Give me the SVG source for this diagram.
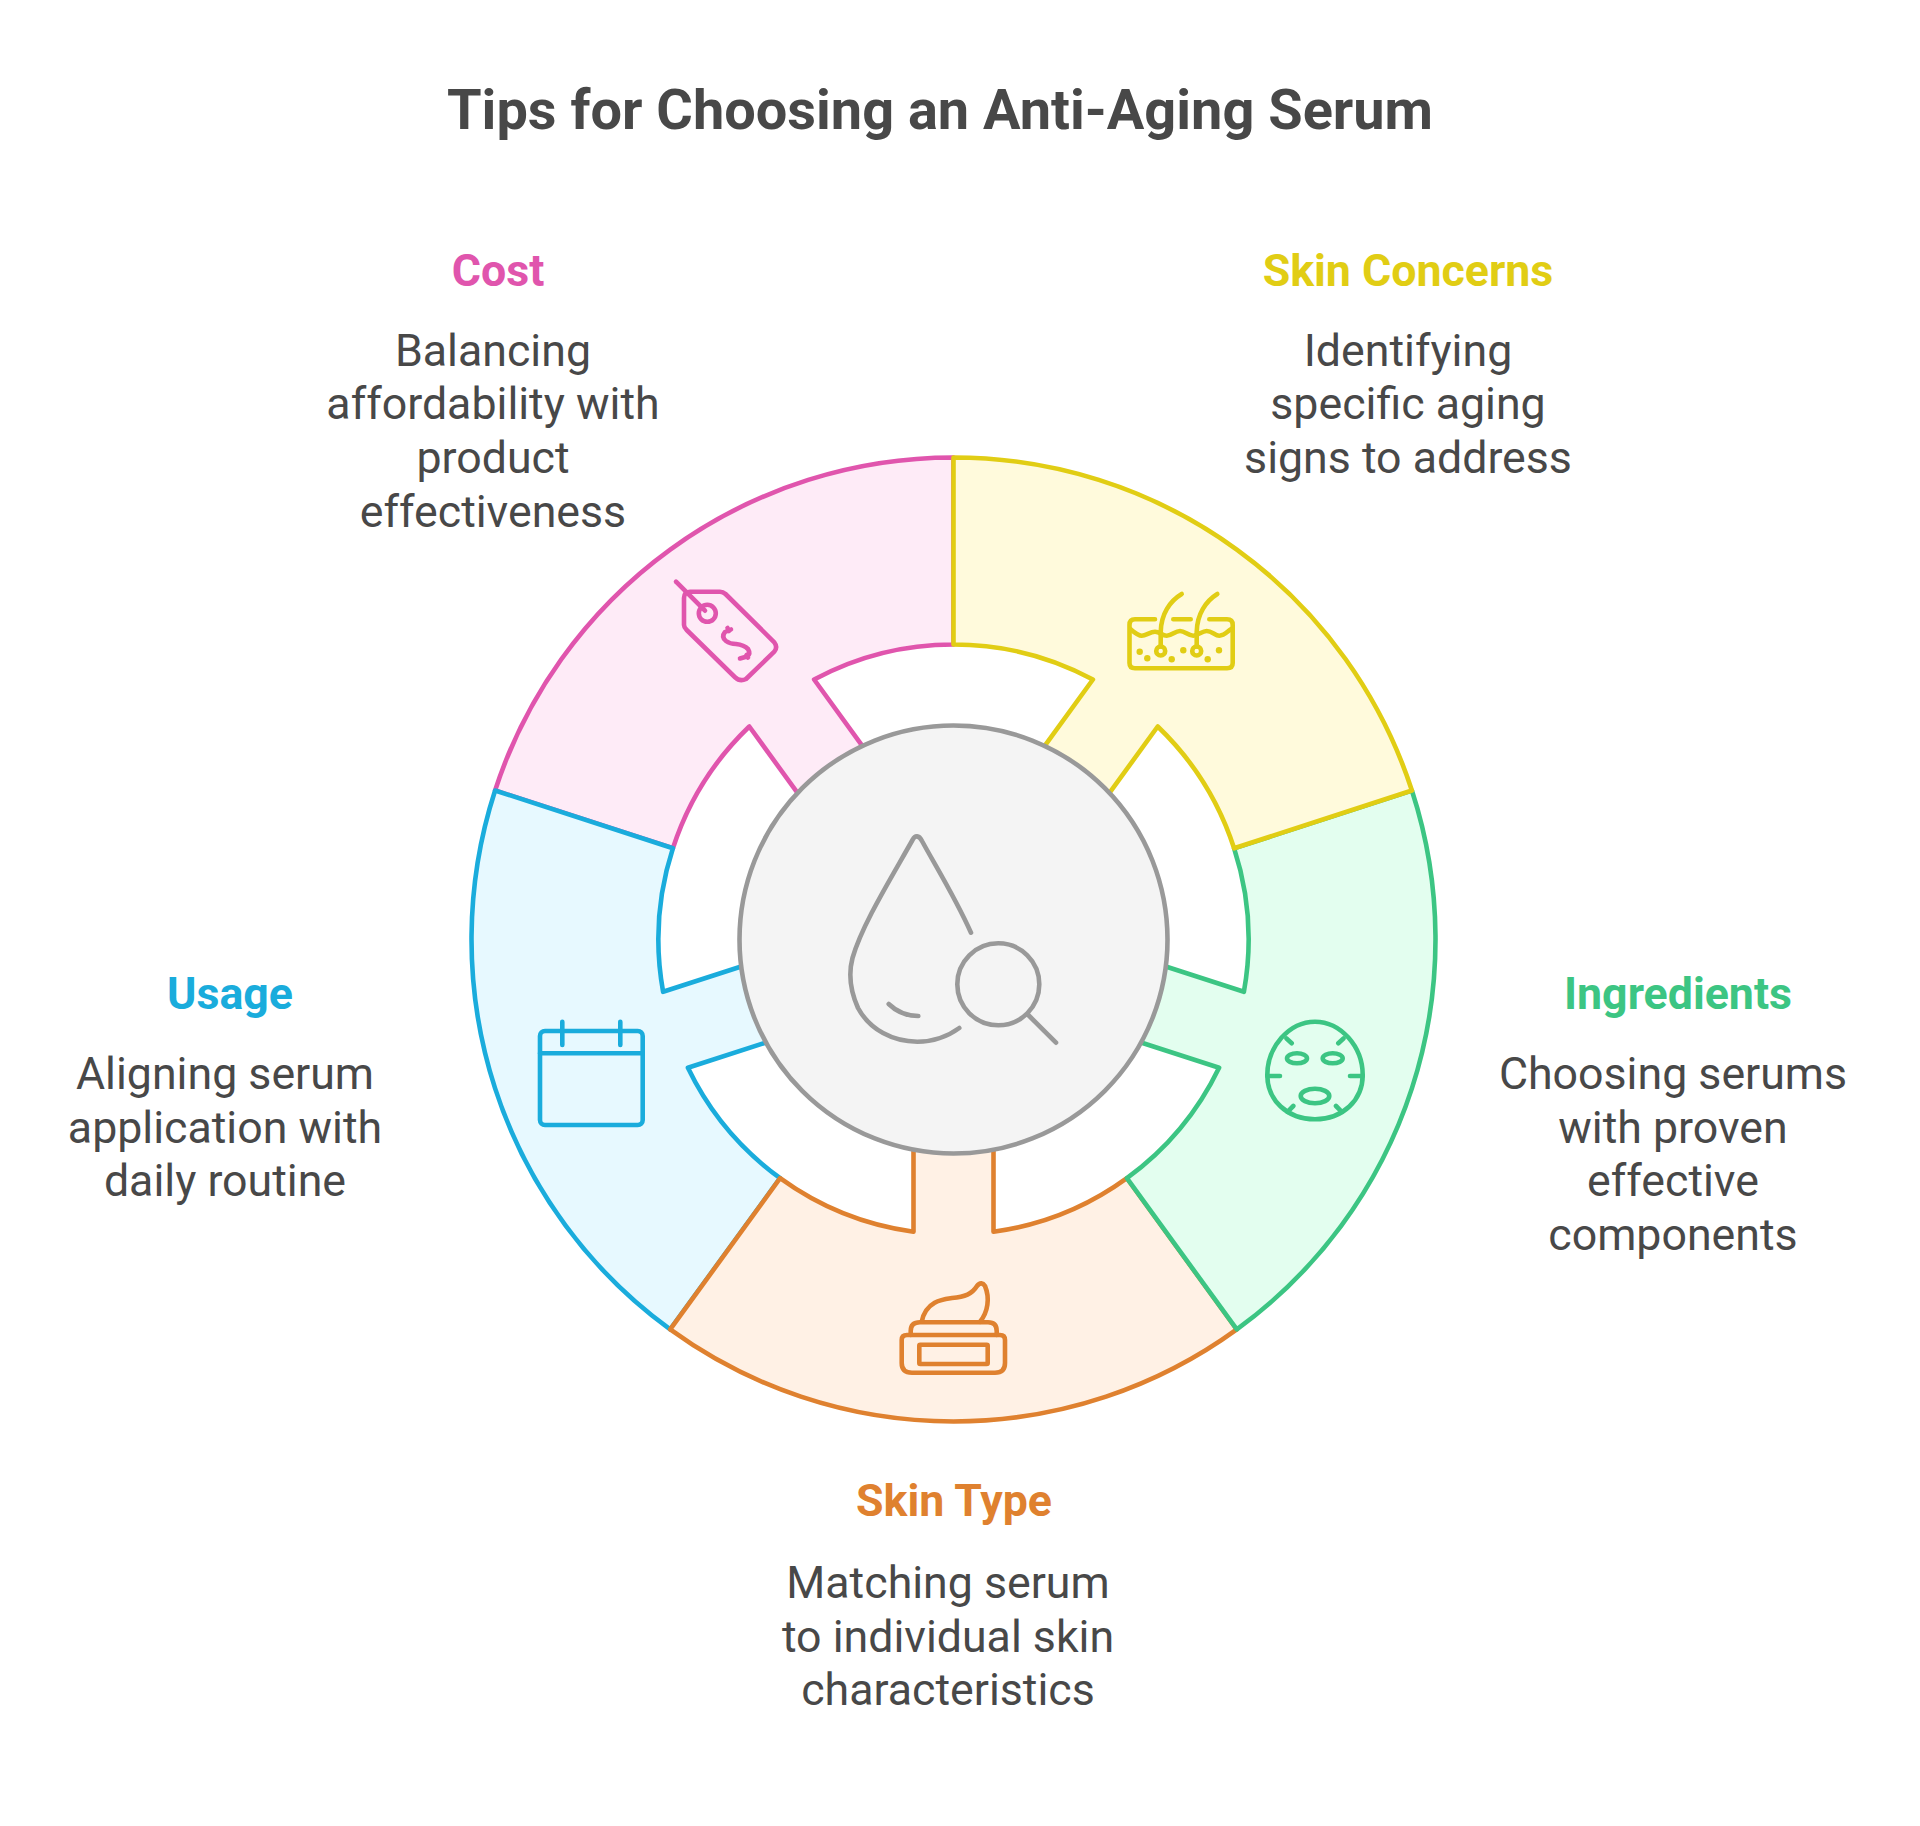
<svg xmlns="http://www.w3.org/2000/svg" width="1920" height="1826" viewBox="0 0 1920 1826">
<style>
text{font-family:Roboto,"Liberation Sans",sans-serif;text-anchor:middle}
.title{font-size:55.9px;font-weight:700;fill:#484848}
.head{font-size:44.7px;font-weight:700}
.body{font-size:44.7px;fill:#484848}
.sec{stroke-width:4.6;stroke-linejoin:round}
.ico{fill:none;stroke-width:4.6;stroke-linecap:round;stroke-linejoin:round}
.dot{stroke:none}
</style>
<rect width="1920" height="1826" fill="#fff"/>
<text class="title" x="940" y="128.500">Tips for Choosing an Anti-Aging Serum</text>
<g id="connectors"></g>
<g id="cost">
<path class="sec" fill="#feebf7" stroke="#e055ad" d="M495.1,790.5A482,482 0 0 1 953.5,457.5L953.5,644.5A295,295 0 0 0 814.1,679.5L862.3,745.9L797.5,792.9L749.3,726.5A295,295 0 0 0 672.9,848.3Z"/>
<g class="ico" stroke="#e055ad">
<path d="M676,581.7L705,610.7"/><circle cx="707.3" cy="613.3" r="8.5"/>
<path d="M690,591.7H720Q723,591.7 725.5,594L774.3,642.3Q778,647 774.3,651.7L746,679Q740,682 735,677.3L686.7,630Q684,627.5 684,625V598Q684,592 690,591.7Z"/>
<path d="M731,629.5L725,632Q721,637 726,641Q730,644 736,644Q744,645 748,649Q751,654 747,656.5L740,658.5M727.500,628L729,631M746.500,655L748,657.500"/>
</g>
<text class="head" x="498" y="285.700" fill="#e055ad">Cost</text>
<text class="body" x="493" y="365.700">Balancing</text>
<text class="body" x="493" y="419.300">affordability with</text>
<text class="body" x="493" y="472.900">product</text>
<text class="body" x="493" y="526.500">effectiveness</text>
</g>
<g id="usage">
<path class="sec" fill="#e7f9ff" stroke="#1aacdc" d="M670.2,1329.4A482,482 0 0 1 495.1,790.5L672.9,848.3A295,295 0 0 0 663.1,991.8L741.2,966.5L766,1042.5L687.9,1067.8A295,295 0 0 0 780.1,1178.2Z"/>
<g class="ico" stroke="#1aacdc">
<rect x="540" y="1031" width="102.700" height="94" rx="5"/>
<path d="M540,1053.300H642.700M562.300,1021.700V1045M620.300,1021.700V1045"/>
</g>
<text class="head" x="230" y="1009" fill="#1aacdc">Usage</text>
<text class="body" x="225" y="1089">Aligning serum</text>
<text class="body" x="225" y="1142.600">application with</text>
<text class="body" x="225" y="1196.200">daily routine</text>
</g>
<g id="skin-type">
<path class="sec" fill="#fff1e5" stroke="#df812f" d="M1236.8,1329.4A482,482 0 0 1 670.2,1329.4L780.1,1178.2A295,295 0 0 0 913.5,1231.8L913.5,1149.7L993.500,1149.7L993.500,1231.8A295,295 0 0 0 1126.9,1178.2Z"/>
<g class="ico" stroke="#df812f">
<path d="M907,1335H1000Q1005,1335 1005,1340V1363Q1005,1372.7 995,1372.7H912Q901.700,1372.7 901.700,1363V1340Q901.700,1335 907,1335Z"/>
<rect x="919.300" y="1344.700" width="68.400" height="19.300" rx="1"/>
<path d="M910.700,1335V1331Q910.700,1322.300 920,1322.300H988Q996.700,1322.300 996.700,1331V1335"/>
<path d="M921.700,1321.700C926,1300 945,1299 952,1298C965,1297 972,1294 977,1286C980,1282 983,1283 985,1286C990,1298 988,1312 980,1321.700"/>
</g>
<text class="head" x="954" y="1516" fill="#df812f">Skin Type</text>
<text class="body" x="948" y="1598">Matching serum</text>
<text class="body" x="948" y="1651.600">to individual skin</text>
<text class="body" x="948" y="1705.200">characteristics</text>
</g>
<g id="ingredients">
<path class="sec" fill="#e3feef" stroke="#3cc583" d="M1411.9,790.5A482,482 0 0 1 1236.8,1329.4L1126.9,1178.2A295,295 0 0 0 1219.1,1067.8L1141,1042.5L1165.8,966.5L1243.9,991.8A295,295 0 0 0 1234.1,848.3Z"/>
<g class="ico" stroke="#3cc583">
<path d="M1315,1021.700C1289,1021.700 1267.300,1047 1267.300,1075C1267.300,1100 1287,1119.300 1315,1119.300C1343,1119.300 1362.700,1100 1362.700,1075C1362.700,1047 1341,1021.700 1315,1021.700Z"/>
<ellipse cx="1297" cy="1058.300" rx="10" ry="5"/><ellipse cx="1332.700" cy="1058.300" rx="10" ry="5"/><ellipse cx="1315" cy="1096" rx="14.300" ry="7.300"/>
<path d="M1286.500,1038.500L1291.700,1043.300M1343.500,1038.500L1338.300,1043.300M1267.300,1076H1280M1362.700,1076H1350M1287.500,1111.800L1293.300,1106M1341.800,1111.800L1336,1106"/>
</g>
<text class="head" x="1678" y="1009" fill="#3cc583">Ingredients</text>
<text class="body" x="1673" y="1089">Choosing serums</text>
<text class="body" x="1673" y="1142.600">with proven</text>
<text class="body" x="1673" y="1196.200">effective</text>
<text class="body" x="1673" y="1249.800">components</text>
</g>
<g id="skin-concerns">
<path class="sec" fill="#fffadc" stroke="#e1cd14" d="M953.5,457.5A482,482 0 0 1 1411.9,790.5L1234.1,848.3A295,295 0 0 0 1157.7,726.5L1109.5,792.9L1044.7,745.9L1092.9,679.5A295,295 0 0 0 953.5,644.5Z"/>
<g class="ico" stroke="#e1cd14">
<path d="M1155,619.300H1135Q1129.500,619.300 1129.500,625V663Q1129.500,668.300 1135,668.300H1227Q1232.700,668.300 1232.700,663V625Q1232.700,619.300 1227,619.300H1209.300M1173.300,619.300H1190.700"/>
<path d="M1130.700,629.300C1135,633 1138,635.700 1141.700,635.700C1146,635.700 1150,631.700 1155,631.700C1160,631.700 1162,635.700 1166.700,635.700C1172,635.700 1175,631 1180,631C1185,631 1188,635.700 1193.300,635.700C1198,635.700 1202,631 1206.700,631C1212,631 1215,635.700 1219.300,635.700C1224,635.700 1227,632 1230.700,629.300"/>
<circle cx="1160.700" cy="651" r="4.500"/><circle cx="1196.700" cy="651" r="4.500"/>
<path d="M1160.700,646.500V632C1161,614 1170,601 1181.700,594M1196.700,646.500V632C1197,614 1206,601 1217.300,594"/>
</g>
<g class="dot" fill="#e1cd14"><circle cx="1139.700" cy="651.700" r="3.200"/><circle cx="1147.300" cy="658.300" r="3.200"/><circle cx="1171.700" cy="659.300" r="3.200"/><circle cx="1183.300" cy="650.300" r="3.200"/><circle cx="1207.700" cy="659.300" r="3.200"/><circle cx="1219" cy="650.300" r="3.200"/></g>
<text class="head" x="1408" y="285.700" fill="#e1cd14">Skin Concerns</text>
<text class="body" x="1408" y="365.700">Identifying</text>
<text class="body" x="1408" y="419.300">specific aging</text>
<text class="body" x="1408" y="472.900">signs to address</text>
</g>
<g id="center">
<circle cx="953.500" cy="939.500" r="214" fill="#f4f4f4" stroke="#999" stroke-width="4.600"/>
<g class="ico" stroke="#999">
<path d="M971,932.700C955,897 935,865 922,841C919,835 915,835 912.500,840C890,880 862,925 852.500,958C848,975 850,990 858,1008C870,1030 893,1041.700 917.300,1041.700C933,1041.700 947,1037 959.300,1028"/>
<path d="M888.700,1004C896,1011 906,1016 918.300,1016"/>
<circle cx="998.300" cy="984.300" r="41"/>
<path d="M1028.300,1015L1056,1042.700"/>
</g>
</g>
</svg>
